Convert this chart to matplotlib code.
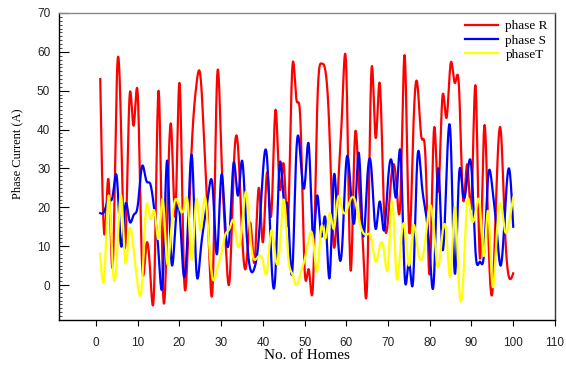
import numpy as np
import matplotlib
matplotlib.use('Agg')
import matplotlib.pyplot as plt
from matplotlib.ticker import MultipleLocator

homes = list(range(1, 101))

phase_r = [53, 13, 27, 5, 54, 40, 10, 48, 41, 49,
           6, 10, 3, 2, 50, 0, 15, 41, 18, 52,
           5, 10, 37, 51, 54, 35, 12, 1, 53, 35,
           12, 1, 30, 36, 13, 5, 16, 6, 25, 11,
           29, 18, 45, 25, 31, 16, 55, 48, 42, 4,
           4, 0, 45, 57, 55, 38, 10, 25, 45, 55,
           4, 37, 26, 10, 1, 55, 38, 52, 20, 17,
           30, 26, 23, 59, 15, 38, 52, 38, 32, 3,
           40, 24, 48, 43, 57, 52, 51, 22, 31, 21,
           51, 7, 40, 15, -2, 25, 40, 15, 2, 3]

phase_s = [18.5, 19, 22, 23, 27.5, 10, 20.5, 16.5, 18, 20.5,
           30.5, 27, 26, 19, 8, 1.5, 32, 7, 15, 19,
           2.5, 15, 33, 4.5, 8, 16.5, 24, 24.5, 8, 28,
           15, 13, 31.5, 23, 32, 15, 4, 4.5, 12, 29,
           32.5, 7, 3, 31, 22, 19, 3, 34, 33, 25.5,
           36, 12.5, 23, 12.5, 17, 2, 28, 12, 10, 32,
           25, 17, 34, 13, 27, 30, 14.5, 21.5, 14, 27,
           31, 23, 34, 2, 6, 1, 32, 27, 19, 8,
           1.5, 30, 9.5, 28, 38, 3, 28, 23, 28, 30,
           8, 6, 8, 28, 25, 15, 5, 18, 30, 15]

phase_t = [8, 2.5, 23, 4.5, 7, 23, 6, 14, 9, 0,
           0, 20, 17, 19, 12, 22, 6, 14, 22, 20,
           19.5, 21, 6.5, 22, 14, 22.5, 12, 1.5, 4, 8,
           13, 14.5, 16.5, 10, 15, 24, 12, 6.5, 7.5, 6,
           3.5, 14, 7, 9, 22, 8, 3, 0, 3, 6.5,
           12, 12, 3.5, 15, 12, 18.5, 14.5, 22.5, 19.5, 19,
           22, 22, 17, 13.5, 13, 12, 6, 10, 9, 5,
           21.5, 2.5, 10, 15, 5, 15, 10, 6.5, 12, 20.5,
           14, 4.5, 13, 13, 2.5, 20, 0, 1, 21.5, 17,
           19, 20.5, 7.5, 19, 0, 12, 21, 14, 16, 22.5]

labels = ['phase R', 'phase S', 'phaseT']
colors = ['#ff0000', '#0000ff', '#ffff00']


def smooth(x, y, n=20):
    # natural cubic spline, like the smoothed lines of the original
    x = np.asarray(x, float)
    y = np.asarray(y, float)
    k = len(x)
    h = np.diff(x)
    A = np.zeros((k, k))
    b = np.zeros(k)
    A[0, 0] = 1
    A[-1, -1] = 1
    for i in range(1, k - 1):
        A[i, i - 1] = h[i - 1]
        A[i, i] = 2 * (h[i - 1] + h[i])
        A[i, i + 1] = h[i]
        b[i] = 6 * ((y[i + 1] - y[i]) / h[i] - (y[i] - y[i - 1]) / h[i - 1])
    M = np.linalg.solve(A, b)
    xs = np.linspace(x[0], x[-1], (k - 1) * n + 1)
    idx = np.clip(np.searchsorted(x, xs) - 1, 0, k - 2)
    x0, x1 = x[idx], x[idx + 1]
    hh = x1 - x0
    t0 = x1 - xs
    t1 = xs - x0
    ys = (M[idx] * t0 ** 3 + M[idx + 1] * t1 ** 3) / (6 * hh) \
        + (y[idx] / hh - M[idx] * hh / 6) * t0 \
        + (y[idx + 1] / hh - M[idx + 1] * hh / 6) * t1
    return xs, ys


fig = plt.figure(figsize=(5.66, 3.65), dpi=100)
ax = fig.add_axes([0.1034, 0.1233, 0.877, 0.8411])

for serie, cor, nome in zip([phase_r, phase_s, phase_t], colors, labels):
    xs, ys = smooth(homes, serie)
    ax.plot(xs, ys, color=cor, lw=1.6, label=nome)

ax.set_xlim(-9, 110)
ax.set_ylim(-9, 70)
ax.xaxis.set_major_locator(MultipleLocator(10))
ax.yaxis.set_major_locator(MultipleLocator(10))
ax.yaxis.set_minor_locator(MultipleLocator(1))

ax.tick_params(axis='x', direction='out', length=4, width=0.8, pad=8,
               labelsize=8.5, top=False)
ax.tick_params(axis='y', which='major', direction='in', length=7, width=0.8,
               pad=6, labelsize=8.5, right=False)
ax.tick_params(axis='y', which='minor', direction='in', length=2.5, width=0.5,
               right=False)
for lab in ax.get_xticklabels() + ax.get_yticklabels():
    lab.set_fontfamily('Liberation Sans')
    lab.set_color('#222222')

ax.spines['top'].set_color('#888888')
ax.spines['right'].set_color('#333333')
for s in ax.spines.values():
    s.set_linewidth(1.0)

ax.set_xlabel('No. of Homes', family='Liberation Serif', fontsize=11, labelpad=0)
ax.set_ylabel('Phase Current (A)', family='Liberation Serif', fontsize=9)
ax.yaxis.set_label_coords(-0.072, 0.54)

leg = ax.legend(loc='upper right', frameon=False, prop={'family': 'Liberation Serif', 'size': 9.5},
                handlelength=2.5, handletextpad=0.55, labelspacing=0.15,
                borderaxespad=0.2, borderpad=0.35)

fig.savefig('out.png', dpi=100)
